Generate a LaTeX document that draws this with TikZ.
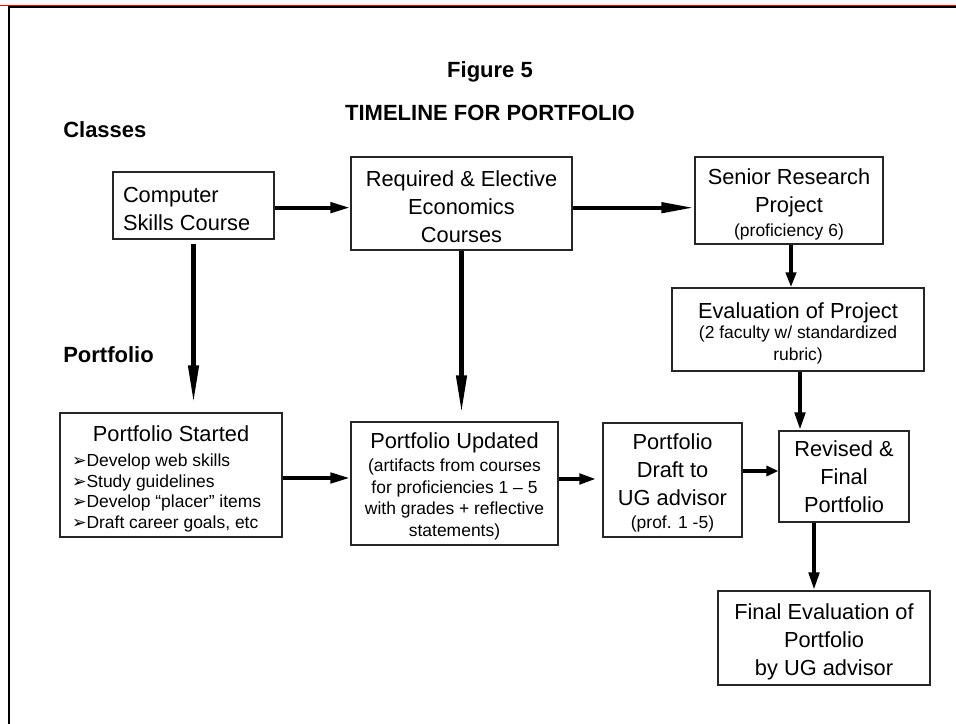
\documentclass[tikz,border=0pt]{standalone}
\usepackage{fontspec}
\setmainfont{Liberation Sans}
\newfontfamily\dejavu{DejaVu Sans}
\usetikzlibrary{arrows.meta}
\newcommand\myBig{\fontsize{16.35pt}{21pt}\selectfont}
\newcommand\mySmall{\fontsize{13.1pt}{16.1pt}\selectfont}
\newcommand\myBul{{\dejavu\fontsize{13pt}{13pt}\selectfont ➢}}
\begin{document}
\begin{tikzpicture}[x=0.75pt,y=-0.75pt,
  box/.style={draw=black!85, line width=0.9pt, inner sep=0pt, font=\myBig, align=flush center, text height=16pt},
  flow/.style={line width=3.2pt, -{Triangle[width=7.5pt,length=#1]}},
  flow/.default=15pt,
  hdr/.style={font=\fontsize{16.5pt}{20pt}\selectfont\bfseries, inner sep=0pt}
]
\useasboundingbox[fill=white] (0,0) rectangle (956,724);
% frame
\draw[red, line width=1pt] (0,5.5) -- (956,5.5);
\draw[black, line width=1.5pt] (8,7.2) -- (956,7.2);
\draw[black, line width=1.9pt] (9.2,6.2) -- (9.2,724);

% titles
\node[hdr] (fig) at (490,72) {Figure 5};
\node[hdr] (tl) at (490,113) {TIMELINE FOR PORTFOLIO};
\node[hdr, anchor=west] (cls) at (63,130) {Classes};
\node[hdr, anchor=west] (pfl) at (63,355) {Portfolio};

% boxes
\node[box, minimum width=120.75pt, minimum height=50.25pt, text width=105.75pt, align=flush left] (comp) at (193.5,205.5) {Computer\\Skills Course};
\node[box, minimum width=165.75pt, minimum height=69.75pt, text width=160pt] (req) at (461.5,203.5) {Required \& Elective\\Economics\\Courses};
\node[box, minimum width=141pt, minimum height=65.25pt, text width=136pt, text height=17.5pt] (sen) at (789,200.5) {Senior Research\\Project\\[-3.4pt]{\mySmall(proficiency 6)}};
\node[box, minimum width=189pt, minimum height=62.25pt, text width=184pt, text height=17.5pt] (evl) at (798,329.5) {Evaluation of Project\\[-5.6pt]{\mySmall(2 faculty w/ standardized}\\[-4.9pt]{\mySmall rubric)}};
\node[box, minimum width=166.5pt, minimum height=93pt, text width=148.5pt, align=flush left, text height=17.5pt] (ps) at (171,475) {\hfill Portfolio Started\hfill\null\\[-1.9pt]{\mySmall\myBul Develop web skills}\\[-5.5pt]{\mySmall\myBul Study guidelines}\\[-5.5pt]{\mySmall\myBul Develop “placer” items}\\[-5.5pt]{\mySmall\myBul Draft career goals, etc}};
\node[box, minimum width=155.25pt, minimum height=92.25pt, text width=150pt] (upd) at (454.5,483.5) {Portfolio Updated\\[-3.4pt]{\mySmall(artifacts from courses}\\[-4.7pt]{\mySmall for proficiencies 1 – 5}\\[-4.7pt]{\mySmall with grades + reflective}\\[-4.7pt]{\mySmall statements)}};
\node[box, minimum width=104.25pt, minimum height=85.5pt, text width=100pt] (dr) at (672.5,480) {Portfolio\\Draft to\\UG advisor\\[-3.4pt]{\mySmall(prof. 1 -5)}};
\node[box, minimum width=97.5pt, minimum height=68.25pt, text width=94pt, text height=12pt] (rev) at (844,476.5) {Revised \&\\Final\\Portfolio};
\node[box, minimum width=159pt, minimum height=70.5pt, text width=155pt, text height=17.5pt] (fin) at (824,638) {Final Evaluation of\\Portfolio\\by UG advisor};

% connector start points
\coordinate (s1) at ([yshift=-1.6pt]comp.east);
\coordinate (s2) at ([yshift=-3.15pt]req.east);
\coordinate (s3) at ([xshift=1.5pt]sen.south);
\coordinate (s6) at ([yshift=-2.25pt]ps.east);
\coordinate (s7) at ([yshift=3.4pt]upd.east);
\coordinate (s8) at ([yshift=6.75pt]dr.east);
\coordinate (s9) at ([xshift=1.5pt]evl.south);
\coordinate (s10) at ([xshift=-22.5pt]rev.south);

% connectors
\draw[flow=15pt] (s1) -- (s1 -| req.west);
\draw[flow=24.75pt] (s2) -- (s2 -| sen.west);
\draw[flow=11.25pt] (s3) -- (s3 |- evl.north);
\draw[flow=28.5pt, shorten <=3pt, shorten >=6.75pt] (comp.south) -- (comp.south |- ps.north);
\draw[flow=28.5pt, shorten >=6pt] (req.south) -- (req.south |- upd.north);
\draw[flow=15pt] (s6) -- (s6 -| upd.west);
\draw[flow=12.75pt, shorten >=4.5pt] (s7) -- (s7 -| dr.west);
\draw[flow=9pt] (s8) -- (s8 -| rev.west);
\draw[flow=13.5pt] (s9) -- (s9 |- rev.north);
\draw[flow=13.5pt] (s10) -- (s10 |- fin.north);
\end{tikzpicture}
\end{document}
